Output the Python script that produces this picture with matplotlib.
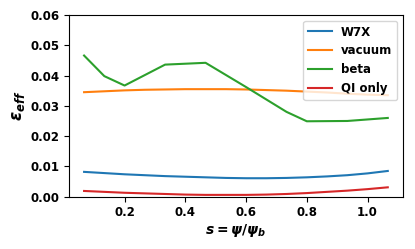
import matplotlib
matplotlib.use("Agg")
import matplotlib.pyplot as plt
import numpy as np

plt.rcParams['font.weight'] = 'bold'
plt.rcParams['mathtext.fontset'] = 'custom'
plt.rcParams['mathtext.rm'] = 'DejaVu Sans:bold'
plt.rcParams['mathtext.it'] = 'DejaVu Sans:bold:italic'
plt.rcParams['mathtext.bf'] = 'DejaVu Sans:bold'

# flux surface label s, k/15
s = np.array([1, 2, 3, 4, 5, 6, 7, 8, 9, 10, 11, 12, 13, 14, 15, 16]) / 15.0

w7x = [0.0082, 0.0078, 0.0074, 0.0071, 0.0068, 0.0066, 0.0064, 0.0062, 0.0061, 0.0061,
       0.0062, 0.0064, 0.0067, 0.0071, 0.0077, 0.0085]
vacuum = [0.0345, 0.0348, 0.0351, 0.0353, 0.0354, 0.0355, 0.0355, 0.0355, 0.0354, 0.0352,
          0.0350, 0.0347, 0.0344, 0.0340, 0.0337, 0.0335]
qi_only = [0.0019, 0.0016, 0.0013, 0.0011, 0.0009, 0.0007, 0.0006, 0.0006, 0.0006, 0.0007,
           0.0009, 0.0012, 0.0016, 0.0020, 0.0025, 0.0031]

s_beta = np.array([1, 2, 3, 5, 7, 9, 11, 12, 14, 16]) / 15.0
beta = [0.0466, 0.0398, 0.0367, 0.0436, 0.0442, 0.0362, 0.0280, 0.0249, 0.0250, 0.0260]

fig = plt.figure(figsize=(4.15, 2.49), dpi=100)
ax = fig.add_axes([0.166, 0.21, 0.805, 0.73])

ax.plot(s, w7x, label='W7X')
ax.plot(s, vacuum, label='vacuum')
ax.plot(s_beta, beta, label='beta')
ax.plot(s, qi_only, label='QI only')

ax.set_ylim(0, 0.06)
ax.set_xticks([0.2, 0.4, 0.6, 0.8, 1.0])
ax.tick_params(labelsize=8.5)
ax.set_xlabel(r'$s = \psi/\psi_b$', fontsize=10, labelpad=2)
ax.set_ylabel(r'$\epsilon_{eff}$', fontsize=12, labelpad=2)
ax.legend(fontsize=8.5, loc='upper right')

fig.savefig('out.png', dpi=100)
